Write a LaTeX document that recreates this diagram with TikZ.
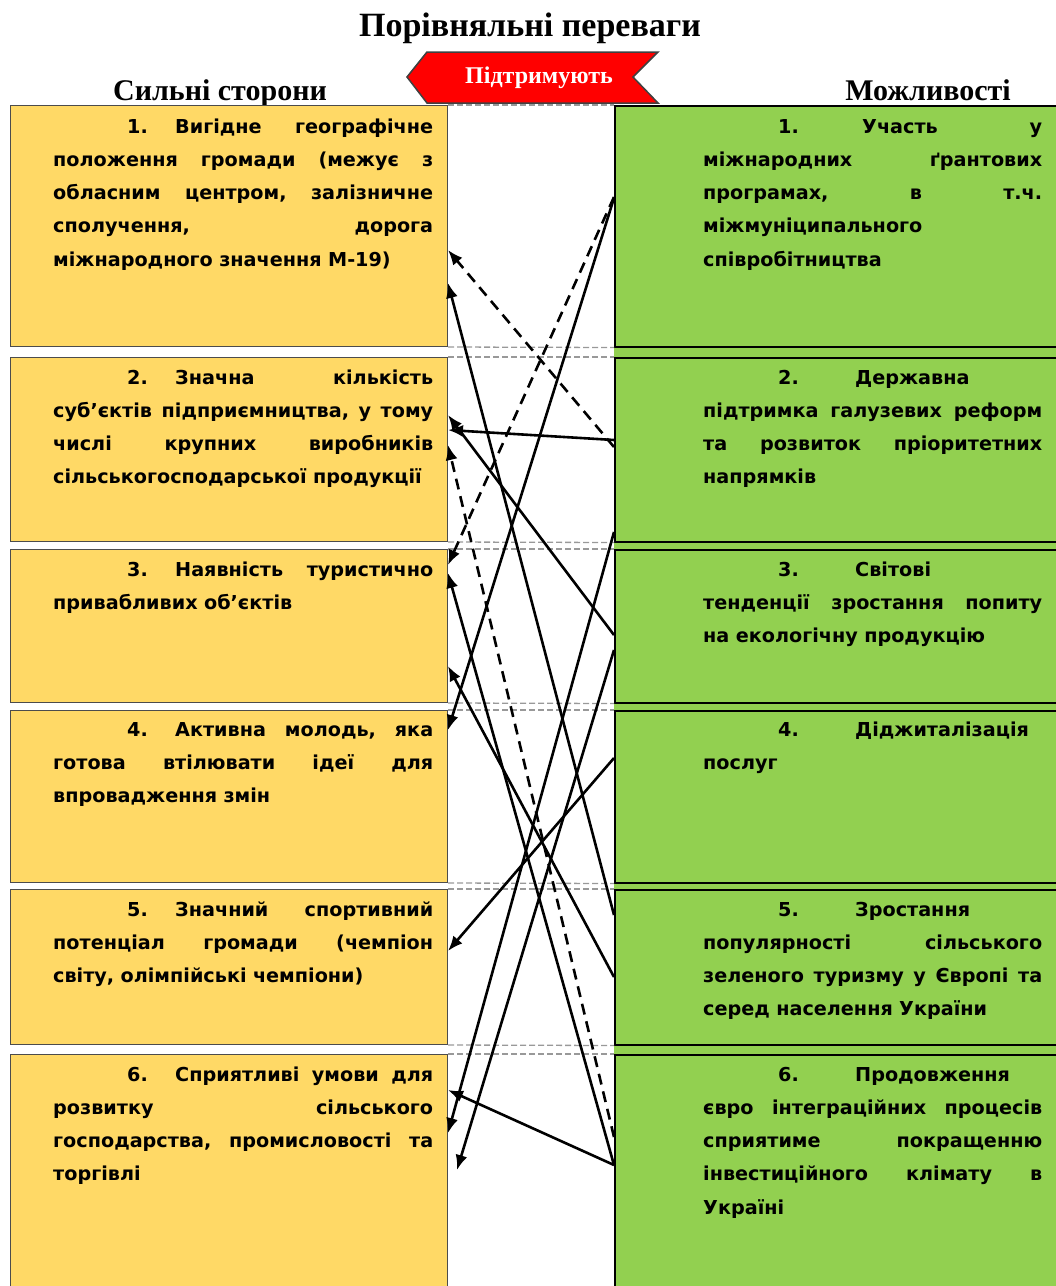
\documentclass[tikz,border=0pt]{standalone}
\usepackage{fontspec}
\setmainfont{DejaVu Sans}
\newfontfamily\boxfont{DejaVu Sans}
\newfontfamily\serfont{Liberation Serif}
\usetikzlibrary{arrows.meta}
\definecolor{lyel}{RGB}{255,217,102}
\definecolor{rgrn}{RGB}{146,208,80}
\definecolor{bred}{RGB}{255,0,0}
\newcommand\jl[2]{\leavevmode\hbox to #1{#2}}
\newcommand\lfirst[2]{\leavevmode\strut\hbox to 380pt{\hspace*{74pt}\hbox to 48pt{#1\hfil}\hbox to 258pt{#2}\hfil}}
\newcommand\rfirst[2]{\leavevmode\strut\hbox to 339pt{\hspace*{75pt}\hbox to 77pt{#1\hfil}#2\hfil}}
\begin{document}
\begin{tikzpicture}[x=1pt,y=-1pt,
  lbox/.style={fill=lyel, draw=black!70, line width=1pt, minimum width=437pt, inner sep=0pt, anchor=north west},
  rbox/.style={fill=rgrn, draw=black, line width=1.5pt, minimum width=460pt, inner sep=0pt, anchor=north west},
  txt/.style={anchor=north west, inner sep=0pt, align=left, font=\boxfont\bfseries\fontsize{19.2pt}{33.2pt}\selectfont},
  ltxt/.style={txt, text width=380pt},
  rtxt/.style={txt, text width=339pt},
  conn/.style={line width=2.6pt, -{Latex[length=15pt,width=12pt]}},
  dconn/.style={conn, dash pattern=on 11pt off 7pt},
  sepl/.style={draw=black!40, line width=1.3pt, dash pattern=on 6pt off 3pt},
  head/.style={anchor=base, inner sep=0pt, font=\serfont\bfseries\fontsize{30pt}{34pt}\selectfont}
]
\useasboundingbox (0,0) rectangle (1056,1286);
\clip (0,0) rectangle (1056,1286);

% title
\node[head, font=\serfont\bfseries\fontsize{34pt}{38pt}\selectfont] (title) at (530,36) {Порівняльні переваги};
\node[head] (lhead) at (220,100) {Сильні сторони};
\node[head] (rhead) at (928,100) {Можливості};

% banner
\filldraw[fill=bred, draw=black!75, line width=1.5pt] (407,77) -- (427,52) -- (658,52) -- (633,77) -- (658,103) -- (427,103) -- cycle;
\node[inner sep=0pt, anchor=base, text=white, font=\serfont\bfseries\fontsize{24pt}{28pt}\selectfont] (ban) at (539,83) {Підтримують};

% right background
\fill[rgrn] (614,105) rectangle (1056,1286);

% boxes
\node[lbox, minimum height=241pt] (L1) at (10,105) {};
\node[lbox, minimum height=184pt] (L2) at (10,357) {};
\node[lbox, minimum height=153pt] (L3) at (10,549) {};
\node[lbox, minimum height=172pt] (L4) at (10,710) {};
\node[lbox, minimum height=155pt] (L5) at (10,889) {};
\node[lbox, minimum height=260pt] (L6) at (10,1054) {};

\node[rbox, minimum height=241pt] (R1) at (614,105) {};
\node[rbox, minimum height=184pt] (R2) at (614,357) {};
\node[rbox, minimum height=153pt] (R3) at (614,549) {};
\node[rbox, minimum height=172pt] (R4) at (614,710) {};
\node[rbox, minimum height=155pt] (R5) at (614,889) {};
\node[rbox, minimum height=260pt] (R6) at (614,1054) {};

% gray dashed separators in the middle
\foreach \i in {1,...,6}{
  \draw[sepl] (L\i.north east) -- (R\i.north west);
}
\foreach \i in {1,...,5}{
  \draw[sepl] (L\i.south east) -- (R\i.south west);
}

% left texts
\node[ltxt] (L1t) at (53,109.9) {\lfirst{1.}{Вигідне\hfill географічне}\\
\jl{380pt}{положення\hfill громади\hfill (межує\hfill з}\\
\jl{380pt}{обласним\hfill центром,\hfill залізничне}\\
\jl{380pt}{сполучення,\hfill дорога}\\
міжнародного значення М-19)};

\node[ltxt] (L2t) at (53,360.9) {\lfirst{2.}{Значна\hfill кількість}\\
\jl{380pt}{суб’єктів\hfill підприємництва,\hfill у\hfill тому}\\
\jl{380pt}{числі\hfill крупних\hfill виробників}\\
сільськогосподарської продукції};

\node[ltxt] (L3t) at (53,552.9) {\lfirst{3.}{Наявність\hfill туристично}\\
привабливих об’єктів};

\node[ltxt] (L4t) at (53,712.9) {\lfirst{4.}{Активна\hfill молодь,\hfill яка}\\
\jl{380pt}{готова\hfill втілювати\hfill ідеї\hfill для}\\
впровадження змін};

\node[ltxt] (L5t) at (53,892.9) {\lfirst{5.}{Значний\hfill спортивний}\\
\jl{380pt}{потенціал\hfill громади\hfill (чемпіон}\\
світу, олімпійські чемпіони)};

\node[ltxt] (L6t) at (53,1057.9) {\lfirst{6.}{Сприятливі\hfill умови\hfill для}\\
\jl{380pt}{розвитку\hfill сільського}\\
\jl{380pt}{господарства,\hfill промисловості\hfill та}\\
торгівлі};

% right texts
\node[rtxt] (R1t) at (703,109.9) {\leavevmode\strut\hbox to 339pt{\hspace*{75pt}\hbox to 84pt{1.\hfil}\hbox to 180pt{Участь\hfill у}}\\
\jl{339pt}{міжнародних\hfill ґрантових}\\
\jl{339pt}{програмах,\hfill в\hfill т.ч.}\\
міжмуніципального\\
співробітництва};

\node[rtxt] (R2t) at (703,360.9) {\rfirst{2.}{Державна}\\
\jl{339pt}{підтримка\hfill галузевих\hfill реформ}\\
\jl{339pt}{та\hfill розвиток\hfill пріоритетних}\\
напрямків};

\node[rtxt] (R3t) at (703,552.9) {\rfirst{3.}{Світові}\\
\jl{339pt}{тенденції\hfill зростання\hfill попиту}\\
на екологічну продукцію};

\node[rtxt] (R4t) at (703,712.9) {\rfirst{4.}{Діджиталізація}\\
послуг};

\node[rtxt] (R5t) at (703,892.9) {\rfirst{5.}{Зростання}\\
\jl{339pt}{популярності\hfill сільського}\\
\jl{339pt}{зеленого\hfill туризму\hfill у\hfill Європі\hfill та}\\
серед населення України};

\node[rtxt] (R6t) at (703,1057.9) {\rfirst{6.}{Продовження}\\
\jl{339pt}{євро\hfill інтеграційних\hfill процесів}\\
\jl{339pt}{сприятиме\hfill покращенню}\\
\jl{339pt}{інвестиційного\hfill клімату\hfill в}\\
Україні};

% free end of one connector
\coordinate (l6c) at (457,1170);

% connectors (opportunities support strengths)
\draw[conn] (R1.west |- 0,198) -- (L4.east |- 0,730);
\draw[conn] (R5.west |- 0,915) -- (L1.east |- 0,283);
\draw[conn] (R3.west |- 0,635) -- (L2.east |- 0,415);
\draw[conn] (R2.west |- 0,440) -- (L2.east |- 0,430);
\draw[conn] (R6.west |- 0,1165) -- (L3.east |- 0,573);
\draw[conn] (R5.west |- 0,977) -- (L3.east |- 0,666);
\draw[conn] (R4.west |- 0,758) -- (L5.east |- 0,951);
\draw[conn] (R6.west |- 0,1165) -- (L6.east |- 0,1090);
\draw[conn] (R2.west |- 0,532) -- (L6.east |- 0,1133);
\draw[conn] (R3.west |- 0,650) -- (l6c);
\draw[dconn] (R2.west |- 0,447) -- (L1.east |- 0,250);
\draw[dconn] (R1.west |- 0,197) -- (L3.east |- 0,565);
\draw[dconn] (R6.west |- 0,1137) -- (L2.east |- 0,445);
\end{tikzpicture}
\end{document}
